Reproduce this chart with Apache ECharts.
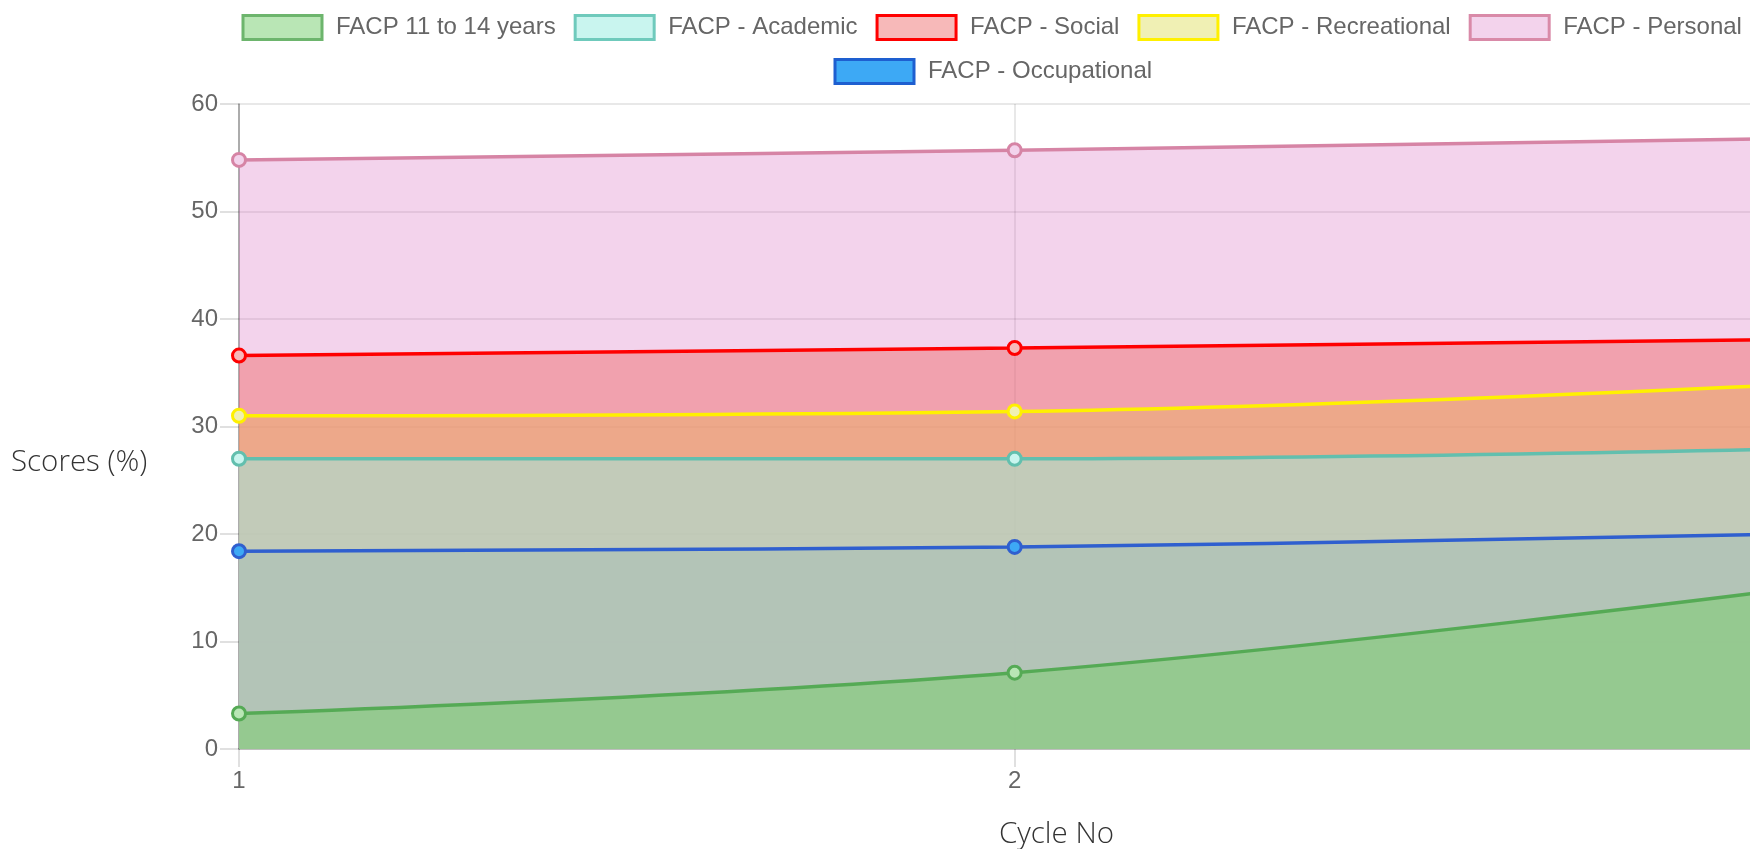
<!DOCTYPE html>
<html>
<head>
<meta charset="utf-8">
<script src="https://cdn.jsdelivr.net/npm/echarts@6/dist/echarts.min.js"></script>
<style>
html,body{margin:0;padding:0;background:#fff;overflow:hidden;width:1750px;height:849px;}
#chart{width:1800px;height:849px;}
</style>
</head>
<body>
<div id="chart"></div>
<script>
// ---- data ----
var categories = ['1', '2', '3'];
var yTicks = [0, 10, 20, 30, 40, 50, 60];
var facp1114 = [3.3, 7.1, 14.9];
var academic = [27.0, 27.0, 27.9];
var social = [36.6, 37.3, 38.1];
var recreational = [31.0, 31.4, 33.9];
var personal = [54.8, 55.7, 56.8];
var occupational = [18.4, 18.8, 20.0];

var seriesNames = ['FACP 11 to 14 years', 'FACP - Academic', 'FACP - Social', 'FACP - Recreational', 'FACP - Personal', 'FACP - Occupational'];
var xTitle = 'Cycle No';
var yTitle = 'Scores (%)';

// ---- styles ----
var defs = [
  {name: seriesNames[0], data: facp1114,     line: '#55AA55', area: 'rgba(119,206,105,0.5)', box: '#B9E6B5', boxBorder: '#6DB56D'},
  {name: seriesNames[1], data: academic,     line: '#62BFAE', area: 'rgba(159,232,224,0.55)', box: '#C9F5EF', boxBorder: '#6FCABC'},
  {name: seriesNames[2], data: social,       line: '#FF0000', area: 'rgba(238,107,107,0.48)', box: '#F7B9B9', boxBorder: '#FF0000'},
  {name: seriesNames[3], data: recreational, line: '#FFF000', area: 'rgba(229,237,98,0.5)', box: '#F0F0B4', boxBorder: '#FFF000'},
  {name: seriesNames[4], data: personal,     line: '#D684A5', area: 'rgba(215,108,192,0.3)', box: '#F3D3EC', boxBorder: '#D98AA8'},
  {name: seriesNames[5], data: occupational, line: '#2F5FCF', area: 'rgba(54,162,235,0.9)', box: '#3DA9F5', boxBorder: '#1E5FD0'}
];

var SMOOTH = 0.4;
var series = [];
// fills, drawn last dataset first (like the original)
for (var i = defs.length - 1; i >= 0; i--) {
  var d = defs[i];
  series.push({
    name: d.name, type: 'line', data: d.data, smooth: SMOOTH, z: 1,
    symbol: 'none', silent: true,
    lineStyle: {width: 0, opacity: 0},
    areaStyle: {color: d.area, opacity: 1, origin: 'start'}
  });
}
// lines + points on top
for (var j = defs.length - 1; j >= 0; j--) {
  var e = defs[j];
  series.push({
    name: e.name, type: 'line', data: e.data, smooth: SMOOTH, z: 3,
    symbol: 'circle', symbolSize: 13, showSymbol: true,
    lineStyle: {width: 3.5, color: e.line},
    itemStyle: {color: e.box, borderColor: e.line, borderWidth: 3}
  });
}

var legendText = {color: '#666', fontSize: 24, fontFamily: 'Liberation Sans, Arial, sans-serif', padding: [0, 0, 0, 9]};
function legendData(list) {
  return list.map(function (k) {
    var d = defs[k];
    return {name: d.name, icon: 'rect', itemStyle: {color: d.box, borderColor: d.boxBorder, borderWidth: 3}};
  });
}

var titleFont = {fontFamily: 'Open Sans, sans-serif', fontWeight: 300, fontSize: 29.5, fill: '#333'};

var chart = echarts.init(document.getElementById('chart'), null, {renderer: 'canvas'});
chart.setOption({
  animation: false,
  backgroundColor: '#fff',
  legend: [
    {data: legendData([0, 1, 2, 3, 4]), left: 241.5, top: 14, padding: 0, itemWidth: 79, itemHeight: 24, itemGap: 18, textStyle: legendText},
    {data: legendData([5]), left: 833.5, top: 58, padding: 0, itemWidth: 79, itemHeight: 24, itemGap: 18, textStyle: legendText}
  ],
  grid: {left: 239, right: 8, top: 104, bottom: 100, containLabel: false},
  graphic: [
    {type: 'text', left: 11, top: 448, style: Object.assign({text: yTitle}, titleFont)},
    {type: 'text', left: 999, top: 820, style: Object.assign({text: xTitle}, titleFont)}
  ],
  xAxis: {
    type: 'category', data: categories, boundaryGap: false,
    axisLine: {show: true, lineStyle: {color: 'rgba(0,0,0,0.18)', width: 2}},
    axisTick: {show: true, alignWithLabel: true, interval: 0, length: 18, lineStyle: {color: 'rgba(0,0,0,0.12)', width: 2}},
    axisLabel: {color: '#666', fontSize: 24, fontFamily: 'Liberation Sans, Arial, sans-serif', margin: 20, interval: 0},
    splitLine: {show: true, interval: 0, lineStyle: {color: 'rgba(0,0,0,0.09)', width: 2}}
  },
  yAxis: {
    type: 'value', min: yTicks[0], max: yTicks[yTicks.length - 1], interval: 10,
    axisLine: {show: true, lineStyle: {color: 'rgba(0,0,0,0.35)', width: 1.5}},
    axisTick: {show: true, length: 19, lineStyle: {color: 'rgba(0,0,0,0.12)', width: 2}},
    axisLabel: {color: '#666', fontSize: 24, fontFamily: 'Liberation Sans, Arial, sans-serif', margin: 21},
    splitLine: {show: true, lineStyle: {color: 'rgba(0,0,0,0.09)', width: 2}}
  },
  series: series
});
</script>
</body>
</html>
